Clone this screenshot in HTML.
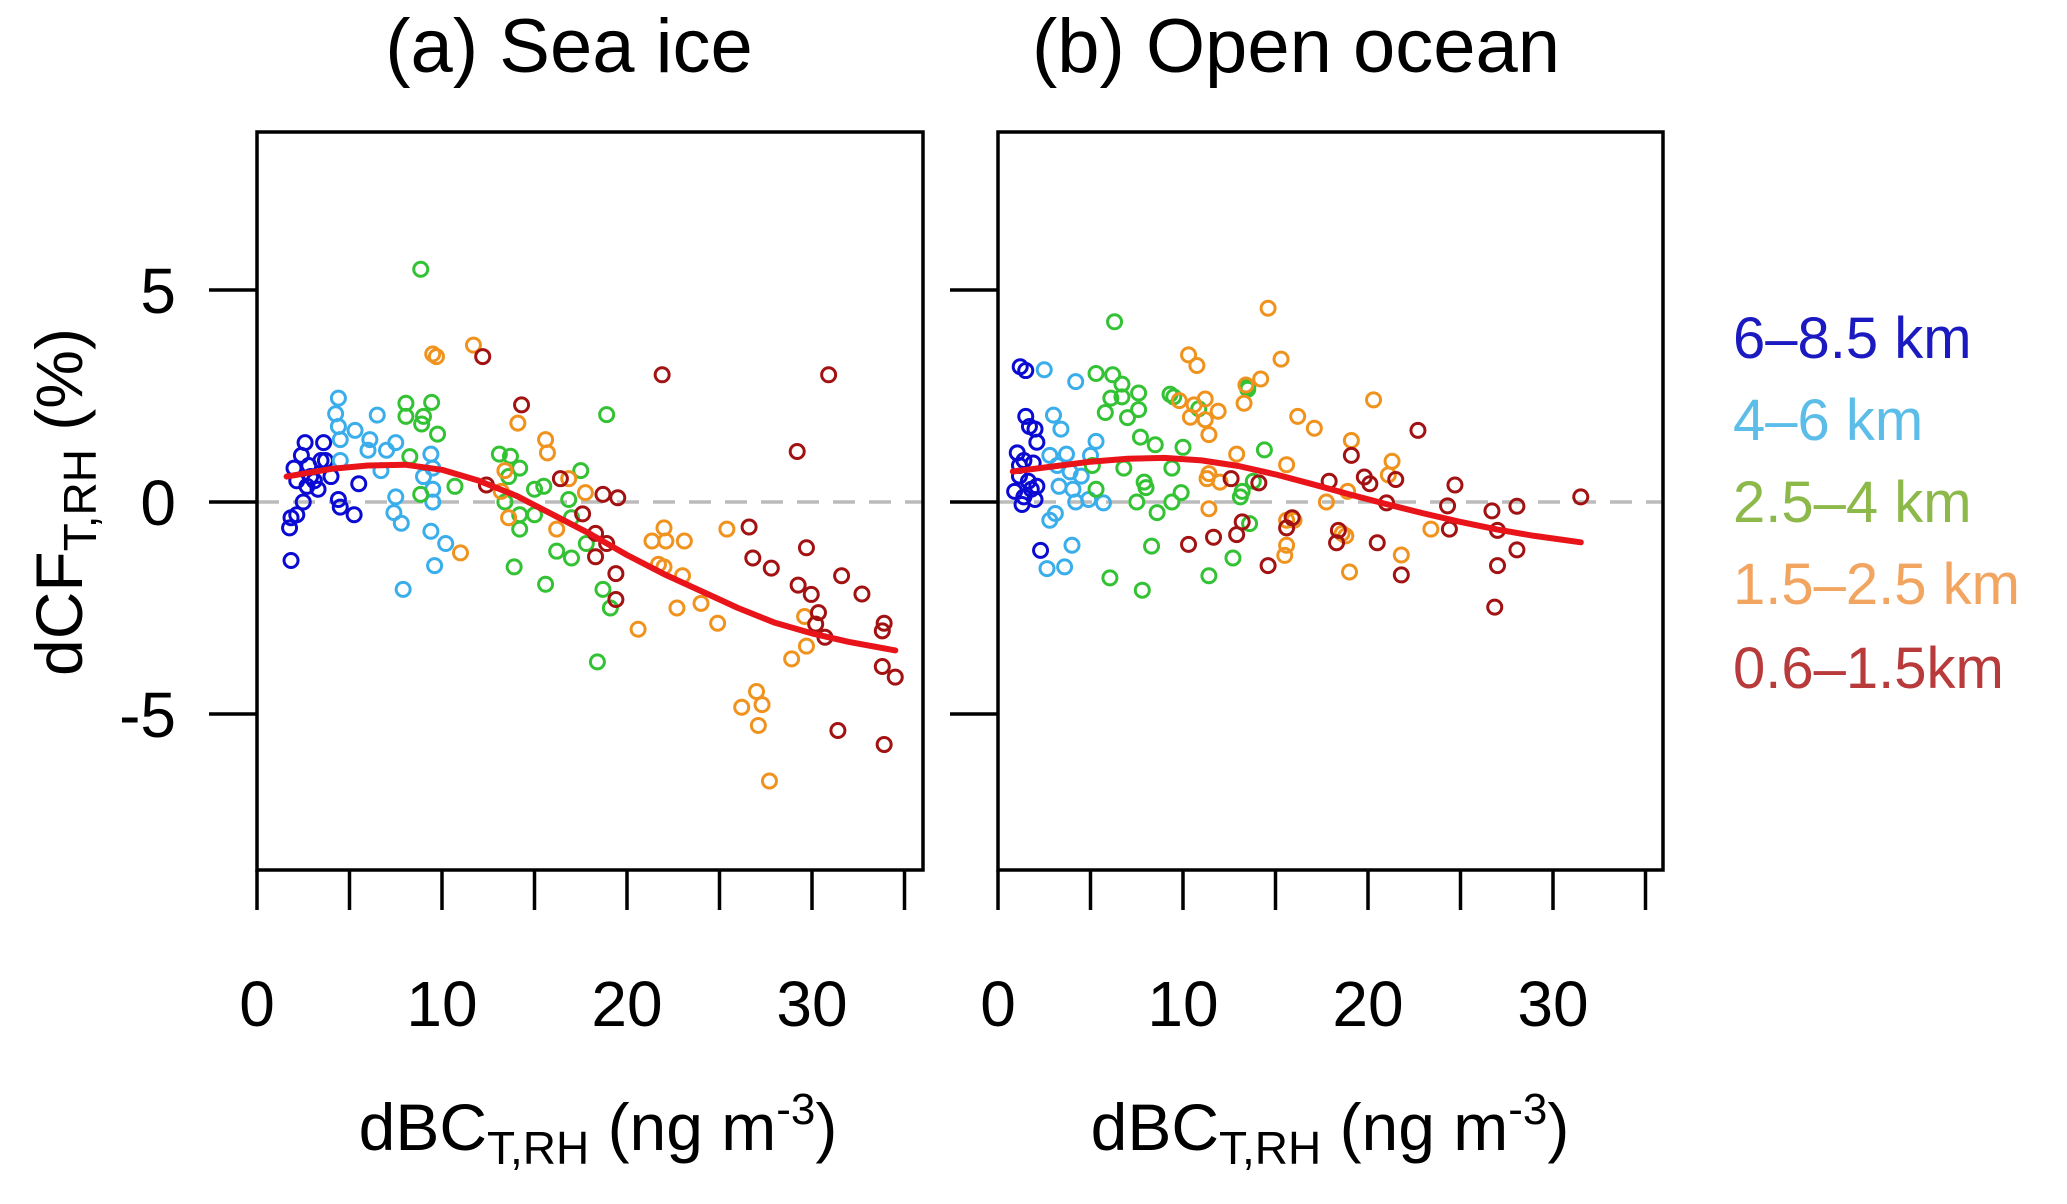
<!DOCTYPE html>
<html><head><meta charset="utf-8"><style>
html,body{margin:0;padding:0;background:#fff;}
svg{display:block;font-family:"Liberation Sans",sans-serif;}
</style></head><body>
<svg id="chart" width="2067" height="1204" viewBox="0 0 2067 1204" xmlns="http://www.w3.org/2000/svg">
<text x="569" y="72" font-size="76" text-anchor="middle">(a) Sea ice</text>
<text x="1296" y="72" font-size="76" text-anchor="middle">(b) Open ocean</text>
<text transform="translate(82,502) rotate(-90)" font-size="66" text-anchor="middle">dCF<tspan font-size="46" dy="14">T,RH</tspan><tspan dy="-14"> (%)</tspan></text>
<text x="598" y="1150" font-size="66" text-anchor="middle">dBC<tspan font-size="46" dy="14">T,RH</tspan><tspan dy="-14"> (ng m</tspan><tspan font-size="44" dy="-26">-3</tspan><tspan dy="26">)</tspan></text>
<text x="1330" y="1150" font-size="66" text-anchor="middle">dBC<tspan font-size="46" dy="14">T,RH</tspan><tspan dy="-14"> (ng m</tspan><tspan font-size="44" dy="-26">-3</tspan><tspan dy="26">)</tspan></text>
<g font-size="58">
<text x="1733" y="358" fill="#1a1ac0">6–8.5 km</text>
<text x="1733" y="440" fill="#5bbde8">4–6 km</text>
<text x="1733" y="522" fill="#8db84a">2.5–4 km</text>
<text x="1733" y="604" fill="#f2a561">1.5–2.5 km</text>
<text x="1733" y="688" fill="#b83a3a">0.6–1.5km</text>
</g>
</svg>
<script>
const seriesColors = ["#0a0ad2", "#3aaeea", "#33c233", "#f0921e", "#a31212"];
const seriesNames = ["6-8.5km", "4-6km", "2.5-4km", "1.5-2.5km", "0.6-1.5km"];
const xTicks = [0, 5, 10, 15, 20, 25, 30, 35];
const xTickLabels = ["0", "10", "20", "30"];
const yTicks = [5, 0, -5];
const yTickLabels = ["5", "0", "-5"];

const seaBlue = [[1.84,-1.38],[1.76,-0.61],[2.15,-0.3],[1.84,-0.37],[2.6,1.4],[3.6,1.4],[2.4,1.1],[3.7,0.98],[2.0,0.8],[2.9,0.6],[3.3,0.3],[2.5,0],[4.4,0.06],[4.5,-0.12],[5.25,-0.3],[5.5,0.43],[2.8,0.86],[3.1,0.5],[4.0,0.6],[2.15,0.5],[3.46,0.98],[2.7,0.37]];
const seaLightBlue = [[4.4,2.45],[4.25,2.08],[4.4,1.78],[4.5,1.47],[5.3,1.69],[6.5,2.05],[6.1,1.47],[6.0,1.22],[7.0,1.22],[7.5,1.4],[6.7,0.74],[4.5,0.98],[7.5,0.12],[7.4,-0.25],[7.8,-0.5],[7.9,-2.06],[9.4,1.13],[9.5,0.8],[9.5,0.3],[9.5,0],[9.0,0.6],[9.4,-0.69],[10.2,-0.98],[9.6,-1.5]];
const seaGreen = [[8.85,5.49],[8.05,2.33],[9.44,2.35],[8.05,2.02],[9.0,2.02],[8.9,1.84],[9.76,1.6],[8.26,1.07],[8.85,0.18],[10.7,0.37],[13.1,1.13],[13.7,1.08],[14.2,0.8],[13.6,0.6],[15,0.3],[15.5,0.37],[13.4,0],[14.2,-0.3],[15,-0.3],[14.2,-0.64],[13.9,-1.53],[16.2,-1.16],[17.0,-1.32],[15.6,-1.94],[17,-0.37],[17.5,0.74],[16.85,0.06],[17.8,-0.98],[18.9,2.06],[18.7,-2.06],[19.1,-2.5],[18.4,-3.77]];
const seaOrange = [[11.7,3.7],[9.5,3.49],[9.7,3.43],[14.1,1.86],[15.6,1.47],[15.7,1.16],[13.4,0.74],[16.85,0.55],[17.75,0.22],[13.2,0.25],[13.6,-0.37],[16.2,-0.64],[11.0,-1.2],[21.35,-0.92],[22,-0.61],[22.1,-0.92],[23.1,-0.92],[21.7,-1.47],[22,-1.53],[23,-1.74],[20.6,-3.0],[22.7,-2.5],[24,-2.39],[24.9,-2.86],[25.4,-0.64],[29.6,-2.7],[29.7,-3.4],[28.9,-3.7],[27,-4.47],[27.3,-4.78],[26.2,-4.84],[27.1,-5.27],[27.7,-6.58]];
const seaDarkRed = [[12.2,3.43],[14.3,2.29],[21.9,3.0],[30.9,3.0],[12.4,0.4],[16.4,0.55],[18.7,0.18],[19.5,0.1],[17.6,-0.28],[18.3,-0.74],[18.9,-0.98],[18.3,-1.29],[19.4,-1.69],[19.4,-2.3],[26.6,-0.59],[26.8,-1.32],[27.8,-1.56],[29.2,1.19],[29.7,-1.08],[29.25,-1.96],[29.96,-2.18],[30.35,-2.61],[30.2,-2.88],[30.7,-3.19],[31.6,-1.74],[32.7,-2.17],[33.9,-2.86],[33.8,-3.04],[33.8,-3.88],[34.5,-4.13],[31.4,-5.39],[33.9,-5.72]];
const seaCurveX = [1.6,4,6,8,10,12,14,16,18,20,22,24,26,28,30,32,34.5];
const seaCurveY = [0.6,0.78,0.86,0.88,0.76,0.5,0.15,-0.3,-0.75,-1.25,-1.7,-2.1,-2.5,-2.85,-3.1,-3.3,-3.5];

const oceanBlue = [[1.2,3.19],[1.5,3.1],[1.5,2.02],[1.7,1.78],[2.0,1.72],[2.1,1.41],[1.04,1.16],[1.4,0.98],[1.9,0.92],[1.16,0.61],[1.64,0.49],[2.1,0.37],[0.9,0.25],[1.4,0.12],[2.0,0.06],[1.3,-0.06],[2.3,-1.14],[1.8,0.3],[1.16,0.86]];
const oceanLightBlue = [[2.5,3.12],[4.2,2.84],[3.0,2.05],[3.4,1.72],[5.3,1.43],[2.8,1.1],[3.7,1.13],[5.0,1.1],[3.2,0.86],[3.9,0.71],[4.5,0.61],[3.3,0.37],[4.05,0.3],[4.9,0.06],[4.2,0],[5.7,-0.02],[3.1,-0.27],[2.8,-0.43],[4.0,-1.02],[2.65,-1.57],[3.6,-1.53]];
const oceanGreen = [[6.3,4.25],[5.3,3.03],[6.2,3.0],[6.7,2.78],[7.6,2.57],[6.1,2.45],[6.7,2.48],[5.8,2.11],[7.6,2.18],[7.0,1.99],[9.3,2.54],[9.5,2.48],[10.85,2.2],[13.5,2.72],[13.5,2.66],[7.7,1.53],[8.5,1.35],[10,1.29],[14.4,1.23],[9.4,0.8],[6.8,0.8],[5.1,0.86],[7.9,0.47],[8.0,0.34],[5.3,0.3],[9.9,0.22],[7.5,0],[9.4,0],[8.6,-0.25],[13.2,0.25],[13.1,0.12],[13.8,0.49],[13.6,-0.51],[8.3,-1.04],[12.7,-1.32],[11.4,-1.74],[6.05,-1.79],[7.8,-2.08]];
const oceanOrange = [[14.6,4.57],[10.3,3.47],[10.75,3.22],[15.3,3.37],[14.2,2.9],[13.4,2.76],[13.3,2.33],[9.8,2.39],[11.2,2.43],[10.6,2.29],[11.9,2.14],[10.4,2.0],[11.2,1.94],[11.4,1.59],[16.2,2.02],[17.1,1.74],[20.3,2.41],[19.1,1.45],[12.9,1.13],[15.6,0.88],[21.3,0.96],[21.1,0.64],[11.4,0.67],[11.3,0.55],[12.0,0.47],[17.75,0],[18.9,0.25],[11.4,-0.16],[15.6,-0.43],[16,-0.43],[18.6,-0.74],[18.8,-0.8],[23.4,-0.64],[15.6,-1.02],[15.5,-1.26],[21.8,-1.25],[19.0,-1.65]];
const oceanDarkRed = [[22.7,1.69],[19.1,1.1],[12.6,0.55],[14.1,0.45],[17.9,0.49],[19.8,0.59],[20.1,0.43],[21.5,0.53],[24.7,0.4],[21.0,-0.02],[24.3,-0.09],[26.7,-0.21],[28.05,-0.1],[31.5,0.12],[24.4,-0.64],[27.0,-0.67],[28.05,-1.13],[27.0,-1.5],[26.85,-2.48],[10.3,-1.0],[11.65,-0.83],[12.9,-0.77],[13.2,-0.47],[15.9,-0.37],[15.6,-0.61],[14.6,-1.5],[18.3,-0.96],[18.4,-0.67],[20.5,-0.96],[21.8,-1.72]];
const oceanCurveX = [0.8,3,5,7,9,11,13,15,17,19,21,23,25,27,29,31.5];
const oceanCurveY = [0.72,0.84,0.95,1.02,1.04,0.98,0.85,0.65,0.42,0.18,-0.05,-0.27,-0.47,-0.65,-0.8,-0.95];

const NS = "http://www.w3.org/2000/svg";
const svg = document.getElementById("chart");
function mk(tag, attrs, parent) {
  const e = document.createElementNS(NS, tag);
  for (const k in attrs) e.setAttribute(k, attrs[k]);
  parent.appendChild(e);
  return e;
}
const yZero = 502, yUnit = 42.4, xUnit = 18.5;
const boxTop = 132, boxBottom = 870;
function yScale(v) { return yZero - v * yUnit; }

function drawPanel(key, left, right, series, cx, cy) {
  const xScale = v => left + v * xUnit;
  const g = mk("g", {}, svg);
  
  
  const z = mk("line", {x1: left, x2: right, y1: yScale(0), y2: yScale(0), stroke: "#bbbbbb", "stroke-width": 3.5, "stroke-dasharray": "22 14"}, g);
  
  
  series.forEach((pts, si) => {
    const sg = mk("g", {}, g);
    
    
    pts.forEach(p => {
      const c = mk("circle", {cx: xScale(p[0]), cy: yScale(p[1]), r: 7, fill: "none", stroke: seriesColors[si], "stroke-width": 3}, sg);
      
      
    });
  });
  const d = cx.map((x, i) => (i ? "L" : "M") + xScale(x).toFixed(1) + "," + yScale(cy[i]).toFixed(1)).join(" ");
  const cv = mk("path", {d: d, fill: "none", stroke: "#e8141a", "stroke-width": 6, "stroke-linejoin": "round", "stroke-linecap": "round"}, g);
  
  
  const b = mk("rect", {x: left, y: boxTop, width: right - left, height: boxBottom - boxTop, fill: "none", stroke: "#000", "stroke-width": 3.5}, g);
  
  
  yTicks.forEach(t => {
    const l = mk("line", {x1: left - 48, x2: left, y1: yScale(t), y2: yScale(t), stroke: "#000", "stroke-width": 3.5}, g);
    
    
  });
  xTicks.forEach(t => {
    const l = mk("line", {x1: xScale(t), x2: xScale(t), y1: boxBottom, y2: boxBottom + 40, stroke: "#000", "stroke-width": 3.5}, g);
    
    
  });
  xTickLabels.forEach(s => {
    const t = mk("text", {x: xScale(+s), y: 1026, "font-size": 64, "text-anchor": "middle"}, g);
    t.textContent = s;
    
    
  });
}
drawPanel("a", 257, 923, [seaBlue, seaLightBlue, seaGreen, seaOrange, seaDarkRed], seaCurveX, seaCurveY);
drawPanel("b", 998, 1663, [oceanBlue, oceanLightBlue, oceanGreen, oceanOrange, oceanDarkRed], oceanCurveX, oceanCurveY);
yTickLabels.forEach((s, i) => {
  const t = mk("text", {x: 176, y: yScale(yTicks[i]) + 23, "font-size": 64, "text-anchor": "end"}, svg);
  t.textContent = s;
  
  
});
</script>
</body></html>
